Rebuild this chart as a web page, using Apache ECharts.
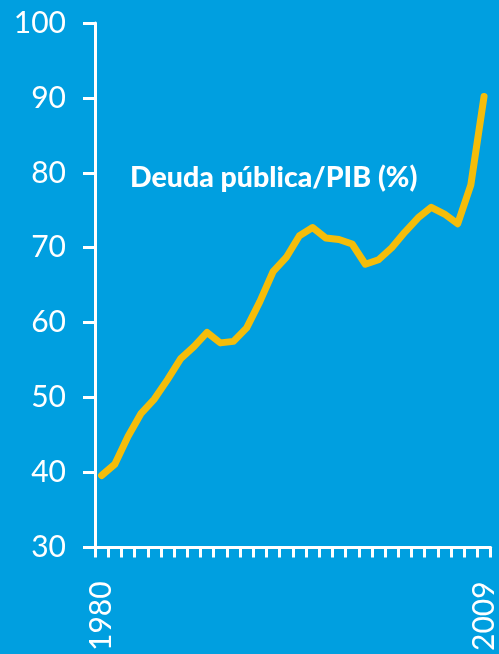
<!DOCTYPE html>
<html>
<head>
<meta charset="utf-8">
<script src="https://cdn.jsdelivr.net/npm/echarts@6/dist/echarts.min.js"></script>
<style>
  html, body { margin: 0; padding: 0; background: #009fe0; }
  #chart { width: 499px; height: 654px; }
</style>
</head>
<body>
<div id="chart"></div>
<script>
const years = [];
for (let y = 1980; y <= 2009; y++) years.push(String(y));

// deuda pública / PIB (%)
const deuda = [39.6, 41.1, 44.8, 47.9, 49.8, 52.4, 55.2, 56.8, 58.7, 57.3,
  57.5, 59.3, 62.8, 66.8, 68.7, 71.6, 72.7, 71.3, 71.1, 70.5,
  67.8, 68.4, 70.0, 72.1, 74.0, 75.4, 74.5, 73.2, 78.4, 90.2];

const yTicks = { min: 30, max: 100, interval: 10 };

const chart = echarts.init(document.getElementById('chart'));
chart.setOption({
  backgroundColor: '#009fe0',
  animation: false,
  title: {
    text: 'Deuda pública/PIB (%)',
    left: 125,
    top: 158,
    textStyle: {
      color: '#fff',
      fontFamily: 'Lato',
      fontWeight: 900,
      fontSize: 28.5
    }
  },
  grid: { left: 95, right: 6, top: 23, bottom: 106 },
  xAxis: {
    type: 'category',
    data: years,
    boundaryGap: true,
    axisLine: { lineStyle: { color: '#fff', width: 3 } },
    axisTick: { show: true, interval: 0, length: 10, lineStyle: { color: '#fff', width: 3 } },
    axisLabel: {
      interval: 0,
      formatter: function (v, i) { return (i === 0 || i === years.length - 1) ? v : ''; },
      rotate: 90,
      margin: 34,
      color: '#fff',
      fontFamily: 'Lato',
      fontSize: 30
    }
  },
  yAxis: {
    type: 'value',
    min: yTicks.min,
    max: yTicks.max,
    interval: yTicks.interval,
    axisLine: { show: true, lineStyle: { color: '#fff', width: 3 } },
    axisTick: { show: true, length: 12, lineStyle: { color: '#fff', width: 3 } },
    splitLine: { show: false },
    axisLabel: {
      margin: 29,
      color: '#fff',
      fontFamily: 'Lato',
      fontSize: 30
    }
  },
  series: [{
    type: 'line',
    data: deuda,
    symbol: 'none',
    lineStyle: { color: '#f5bd0a', width: 7, cap: 'round', join: 'round' }
  }]
});
</script>
</body>
</html>
